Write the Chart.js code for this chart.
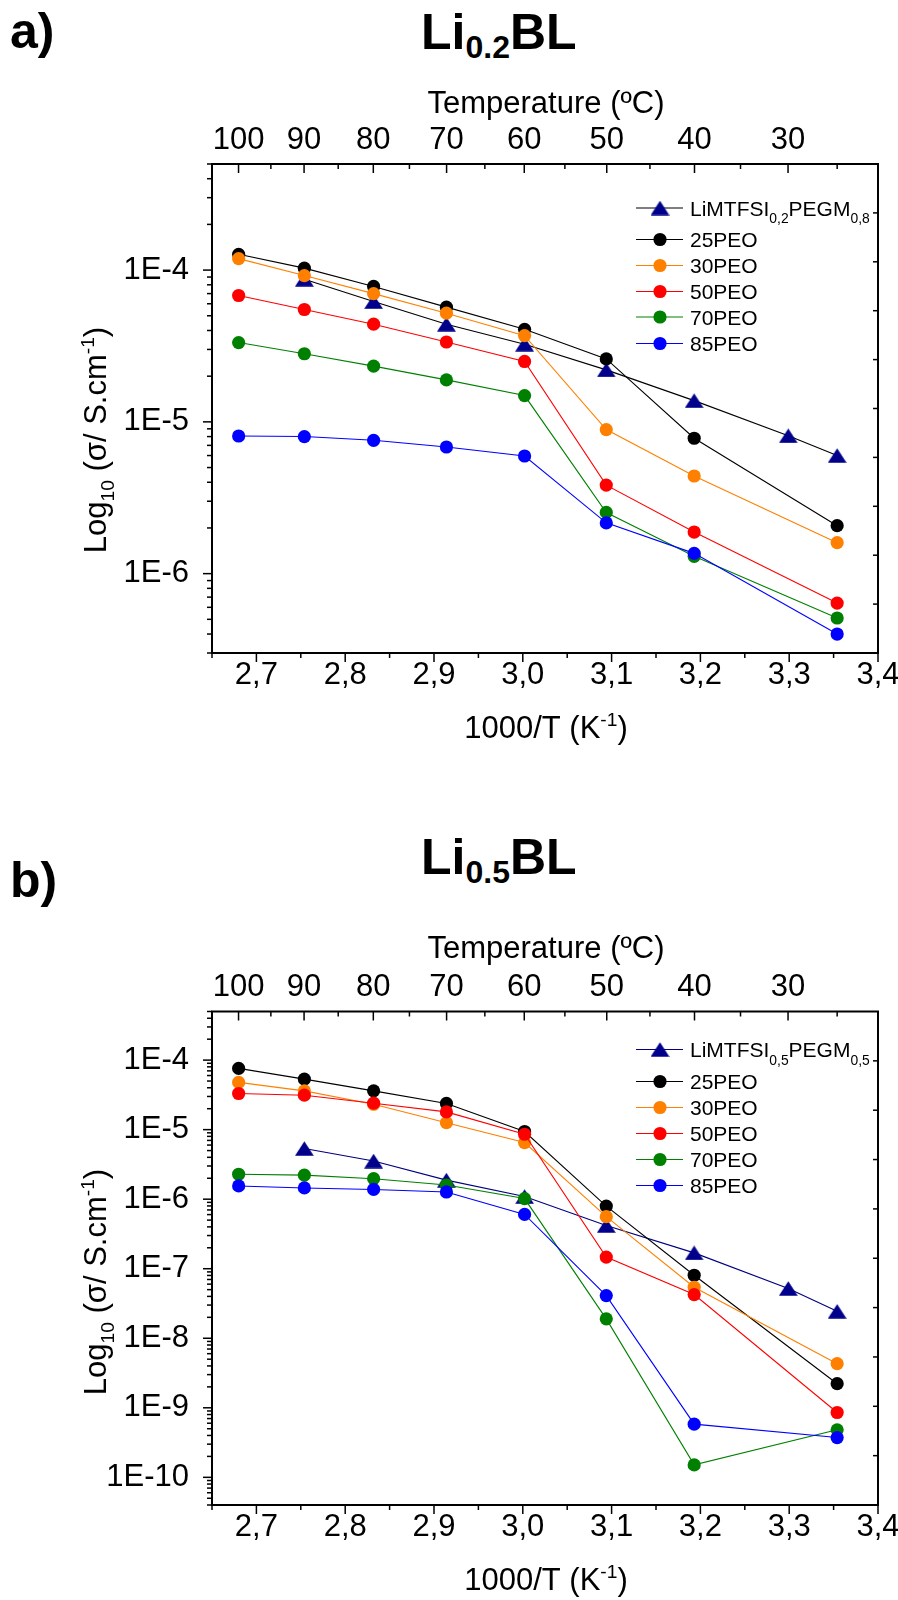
<!DOCTYPE html>
<html>
<head>
<meta charset="utf-8">
<script src="https://cdn.jsdelivr.net/npm/chart.js@4.4.1/dist/chart.umd.min.js"></script>
<style>
  html, body { margin: 0; padding: 0; background: #fff; }
  body { width: 898px; height: 1600px; position: relative; overflow: hidden;
         font-family: 'Liberation Sans', Arial, sans-serif; color: #000; }
  .panel { position: absolute; left: 0; width: 898px; height: 800px; }
  .tag, .ttl { position: absolute; font-weight: bold; font-size: 50px; line-height: 50px; white-space: nowrap; }
  .ttl .s { font-size: 32px; position: relative; top: 9px; }
</style>
</head>
<body>
<div class="tag" style="left:10px;top:6px">a)</div>
<div class="ttl" style="left:421px;top:7px">Li<span class="s">0.2</span>BL</div>
<div class="panel" style="top:0"><canvas id="chartA" width="898" height="800"></canvas></div>
<div class="tag" style="left:10px;top:855px">b)</div>
<div class="ttl" style="left:421px;top:832px">Li<span class="s">0.5</span>BL</div>
<div class="panel" style="top:800px"><canvas id="chartB" width="898" height="800"></canvas></div>

<script>
const FONT = "'Liberation Sans', Arial, sans-serif";
const TEXT_SIZE = 31;

// Measurement temperatures: 100, 90, 80, 70, 60, 50, 40, 30, 25 °C as 1000/T (K^-1)
const invT = [2.680, 2.754, 2.832, 2.914, 3.002, 3.094, 3.193, 3.299, 3.354];

// Bottom axis (1000/T)
const xTickValues = [2.7, 2.8, 2.9, 3.0, 3.1, 3.2, 3.3, 3.4];
const xTickLabels = ['2,7', '2,8', '2,9', '3,0', '3,1', '3,2', '3,3', '3,4'];
const xMinorValues = [2.65, 2.75, 2.85, 2.95, 3.05, 3.15, 3.25, 3.35];

// Top axis (temperature, °C)
const tempTickLabels = [100, 90, 80, 70, 60, 50, 40, 30];
const tempMinorValues = [95, 85, 75, 65, 55, 45, 35, 25];

// Conductivity axis decades
const aDecades = [1e-6, 1e-5, 1e-4];
const aDecadeLabels = ['1E-6', '1E-5', '1E-4'];
const bDecades = [1e-10, 1e-9, 1e-8, 1e-7, 1e-6, 1e-5, 1e-4];
const bDecadeLabels = ['1E-10', '1E-9', '1E-8', '1E-7', '1E-6', '1E-5', '1E-4'];

// Series names and colours
const seriesNames = ['LiMTFSI', '25PEO', '30PEO', '50PEO', '70PEO', '85PEO'];
const markerColors = ['#00008b', '#000000', '#ff8000', '#ff0000', '#008000', '#0000ff'];

// Li0.2BL, conductivity (S/cm); null = not measured
const aLiPEGM = [null, 8.7e-5, 6.2e-5, 4.4e-5, 3.25e-5, 2.2e-5, 1.38e-5, 8.1e-6, 6.0e-6];
const aPEO25  = [1.27e-4, 1.03e-4, 7.8e-5, 5.7e-5, 4.07e-5, 2.6e-5, 7.8e-6, null, 2.07e-6];
const aPEO30  = [1.19e-4, 9.2e-5, 7.0e-5, 5.2e-5, 3.7e-5, 8.9e-6, 4.4e-6, null, 1.6e-6];
const aPEO50  = [6.8e-5, 5.5e-5, 4.4e-5, 3.36e-5, 2.5e-5, 3.83e-6, 1.88e-6, null, 6.4e-7];
const aPEO70  = [3.33e-5, 2.81e-5, 2.33e-5, 1.89e-5, 1.49e-5, 2.53e-6, 1.3e-6, null, 5.1e-7];
const aPEO85  = [8.07e-6, 8.0e-6, 7.56e-6, 6.83e-6, 5.96e-6, 2.16e-6, 1.36e-6, null, 4.0e-7];

// Li0.5BL, conductivity (S/cm)
const bLiPEGM = [null, 5.35e-6, 3.54e-6, 1.88e-6, 1.09e-6, 4.19e-7, 1.69e-7, 5.2e-8, 2.44e-8];
const bPEO25  = [7.6e-5, 5.33e-5, 3.61e-5, 2.38e-5, 9.4e-6, 7.96e-7, 8.06e-8, null, 2.22e-9];
const bPEO30  = [4.78e-5, 3.61e-5, 2.32e-5, 1.26e-5, 6.52e-6, 5.6e-7, 5.41e-8, null, 4.31e-9];
const bPEO50  = [3.31e-5, 3.13e-5, 2.40e-5, 1.80e-5, 8.59e-6, 1.47e-7, 4.25e-8, null, 8.55e-10];
const bPEO70  = [2.28e-6, 2.22e-6, 1.97e-6, 1.60e-6, 1.02e-6, 1.9e-8, 1.51e-10, null, 4.82e-10];
const bPEO85  = [1.55e-6, 1.45e-6, 1.38e-6, 1.27e-6, 6.04e-7, 4.11e-8, 5.82e-10, null, 3.73e-10];

const toInvT = (c) => 1000 / (c + 273.15);

// Up-pointing triangle symbol
function triangleSymbol(color) {
  const c = document.createElement('canvas');
  c.width = 19; c.height = 15;
  const g = c.getContext('2d');
  g.fillStyle = color;
  g.beginPath();
  g.moveTo(9.5, 0.3); g.lineTo(18.9, 14.7); g.lineTo(0.1, 14.7);
  g.closePath(); g.fill();
  return c;
}

// Text runs with sub/superscripts: parts = [[text, ''|'sub'|'sup'], ...]
function richWidth(ctx, parts, F, k) {
  let w = 0;
  for (const [t, kind] of parts) {
    ctx.font = (kind ? F * k : F) + 'px ' + FONT;
    w += ctx.measureText(t).width;
  }
  return w;
}
function drawRich(ctx, parts, F, x, y, align, opt) {
  const k = (opt && opt.k) || 0.62, sub = (opt && opt.sub) || 0.25, sup = (opt && opt.sup) || 0.4;
  const w = richWidth(ctx, parts, F, k);
  let cx = align === 'center' ? x - w / 2 : x;
  ctx.textAlign = 'left'; ctx.textBaseline = 'alphabetic'; ctx.fillStyle = '#000';
  for (const [t, kind] of parts) {
    ctx.font = (kind ? F * k : F) + 'px ' + FONT;
    const dy = kind === 'sub' ? F * sub : kind === 'sup' ? -F * sup : 0;
    ctx.fillText(t, cx, y + dy);
    cx += ctx.measureText(t).width;
  }
}

function framePlugin(p) {
  return {
    id: 'frame',
    afterDraw(chart) {
      const ctx = chart.ctx;
      const { left, right, top, bottom } = chart.chartArea;
      const xs = chart.scales.x, xt = chart.scales.x2, ys = chart.scales.y;
      ctx.save();
      ctx.strokeStyle = '#000';
      const seg = (x1, y1, x2, y2) => { ctx.beginPath(); ctx.moveTo(x1, y1); ctx.lineTo(x2, y2); ctx.stroke(); };

      // ticks: bottom/left outward, top/right inward
      ctx.lineWidth = 1.5;
      xTickValues.forEach(v => { const px = xs.getPixelForValue(v); seg(px, bottom, px, bottom + 9); });
      xMinorValues.forEach(v => { const px = xs.getPixelForValue(v); seg(px, bottom, px, bottom + 5); });
      tempTickLabels.forEach(c => { const px = xt.getPixelForValue(toInvT(c)); seg(px, top, px, top + 9); });
      tempMinorValues.forEach(c => { const px = xt.getPixelForValue(toInvT(c)); seg(px, top, px, top + 5); });
      p.decades.forEach(v => { const py = ys.getPixelForValue(v); seg(left, py, left - 9, py); });
      const e0 = Math.floor(Math.log10(p.yMin)), e1 = Math.floor(Math.log10(p.yMax));
      for (let e = e0; e <= e1; e++) {
        for (let m = 2; m <= 9; m++) {
          const v = m * Math.pow(10, e);
          if (v < p.yMin * 0.999 || v > p.yMax * 1.001) continue;
          const py = ys.getPixelForValue(v); seg(left, py, left - 5, py);
        }
      }
      for (let i = 1; i < 10; i++) {
        const py = top + i * (bottom - top) / 10; seg(right, py, right - 5, py);
      }
      // frame
      ctx.lineWidth = 2;
      ctx.strokeRect(left, top, right - left, bottom - top);

      // axis titles
      drawRich(ctx, [['Temperature (\u00BAC)', '']], TEXT_SIZE, 546, p.tempTitleY, 'center');
      drawRich(ctx, [['1000/T (K', ''], ['-1', 'sup'], [')', '']], TEXT_SIZE, 546, p.xTitleY, 'center');
      ctx.save();
      ctx.translate(106, p.yTitleY);
      ctx.rotate(-Math.PI / 2);
      drawRich(ctx, [['Log', ''], ['10', 'sub'], [' (\u03C3/ S.cm', ''], ['-1', 'sup'], [')', '']], TEXT_SIZE, 0, 0, 'center');
      ctx.restore();

      // legend
      p.legendRows.forEach((ry, i) => {
        ctx.strokeStyle = p.lineColors[i]; ctx.lineWidth = 1.1;
        seg(636, ry, 683, ry);
        if (i === 0) {
          const img = p.triangle;
          ctx.drawImage(img, 660 - img.width / 2, ry - img.height / 2);
        } else {
          ctx.fillStyle = markerColors[i];
          ctx.beginPath(); ctx.arc(660, ry, 6.6, 0, Math.PI * 2); ctx.fill();
        }
        const parts = i === 0 ? p.firstLabel : [[seriesNames[i], '']];
        drawRich(ctx, parts, 21, 690, ry + 7.5, 'left', { k: 0.66, sub: 0.38 });
      });
      ctx.restore();
    }
  };
}

function buildChart(canvasId, p) {
  const datasets = p.series.map((vals, i) => ({
    label: seriesNames[i],
    data: invT.map((x, j) => ({ x: x, y: vals[j] })),
    borderColor: p.lineColors[i],
    borderWidth: 1.1,
    backgroundColor: markerColors[i],
    pointBackgroundColor: markerColors[i],
    pointBorderColor: markerColors[i],
    pointBorderWidth: 0,
    pointRadius: 6.6,
    pointStyle: i === 0 ? p.triangle : 'circle',
    tension: 0,
    spanGaps: true,
    order: 6 - i
  }));
  const tickFont = { family: FONT, size: TEXT_SIZE };
  const noEdgePad = s => { s.paddingLeft = 0; s.paddingRight = 0; s.paddingTop = 0; s.paddingBottom = 0; };
  return new Chart(document.getElementById(canvasId), {
    type: 'line',
    data: { datasets },
    options: {
      responsive: false, animation: false, devicePixelRatio: 1, events: [],
      layout: { padding: { left: 0, right: 20, top: 0, bottom: 0 } },
      plugins: { legend: { display: false }, tooltip: { enabled: false } },
      scales: {
        x: {
          type: 'linear', position: 'bottom', min: 2.65, max: 3.4,
          grid: { display: false, drawTicks: false }, border: { display: false },
          afterBuildTicks: s => { s.ticks = xTickValues.map(v => ({ value: v })); },
          ticks: { callback: (v, i) => xTickLabels[i], font: tickFont, color: '#000', padding: 4, maxRotation: 0, autoSkip: false },
          afterFit: s => { s.height = 800 - p.plotBottom; noEdgePad(s); }
        },
        x2: {
          type: 'linear', position: 'top', min: 2.65, max: 3.4,
          grid: { display: false, drawTicks: false }, border: { display: false },
          afterBuildTicks: s => { s.ticks = tempTickLabels.map(c => ({ value: toInvT(c) })); },
          ticks: { callback: (v, i) => String(tempTickLabels[i]), font: tickFont, color: '#000', padding: 5, maxRotation: 0, autoSkip: false },
          afterFit: s => { s.height = p.plotTop; noEdgePad(s); }
        },
        y: {
          type: 'logarithmic', position: 'left', min: p.yMin, max: p.yMax,
          grid: { display: false, drawTicks: false }, border: { display: false },
          afterBuildTicks: s => { s.ticks = p.decades.map(v => ({ value: v })); },
          ticks: { callback: (v, i) => p.decadeLabels[i], font: tickFont, color: '#000', padding: 23, autoSkip: false },
          afterFit: s => { s.width = 212; noEdgePad(s); }
        }
      }
    },
    plugins: [framePlugin(p)]
  });
}

buildChart('chartA', {
  series: [aLiPEGM, aPEO25, aPEO30, aPEO50, aPEO70, aPEO85],
  lineColors: ['#000000', '#000000', '#ff8000', '#ff0000', '#008000', '#0000ff'],
  triangle: triangleSymbol('#00008b'),
  yMin: 3e-7, yMax: 5e-4, decades: aDecades, decadeLabels: aDecadeLabels,
  plotTop: 164, plotBottom: 653,
  tempTitleY: 113, xTitleY: 738, yTitleY: 440,
  legendRows: [208, 239.5, 265.5, 291.5, 317, 343.5],
  firstLabel: [['LiMTFSI', ''], ['0,2', 'sub'], ['PEGM', ''], ['0,8', 'sub']]
});

buildChart('chartB', {
  series: [bLiPEGM, bPEO25, bPEO30, bPEO50, bPEO70, bPEO85],
  lineColors: ['#000080', '#000000', '#ff8000', '#ff0000', '#008000', '#0000ff'],
  triangle: triangleSymbol('#00008b'),
  yMin: 4e-11, yMax: 5e-4, decades: bDecades, decadeLabels: bDecadeLabels,
  plotTop: 211.5, plotBottom: 705,
  tempTitleY: 158, xTitleY: 790, yTitleY: 482,
  legendRows: [249.5, 281.5, 307.5, 333.5, 359.5, 385.5],
  firstLabel: [['LiMTFSI', ''], ['0,5', 'sub'], ['PEGM', ''], ['0,5', 'sub']]
});
</script>
</body>
</html>
